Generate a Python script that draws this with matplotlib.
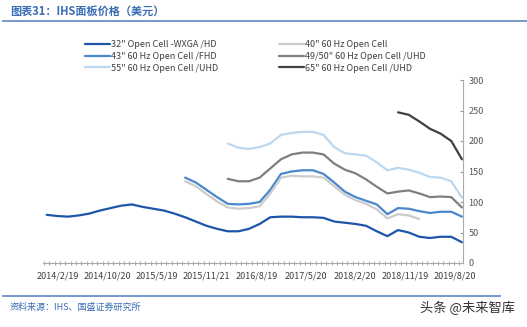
import matplotlib
matplotlib.use("Agg")
import matplotlib.pyplot as plt
import numpy as np

plt.rcParams['font.family'] = ['Noto Sans CJK SC', 'DejaVu Sans']

# category index (about 40 samples across the period)
n_points = 40
tick_labels = ['2014/2/19', '2014/10/20', '2015/5/19', '2015/11/21', '2016/8/19',
               '2017/5/20', '2018/2/20', '2018/11/19', '2019/8/20']

# series: (first index, values)
s32 = (0, [79, 77, 76, 78, 81, 86, 90, 94, 96, 92, 89, 86, 81, 75, 68, 61, 56, 52, 52, 56,
           64, 75, 76, 76, 75, 75, 74, 68, 66, 64, 61, 52, 44, 54, 50, 43, 41, 43, 43, 34])
s43 = (13, [140, 132, 120, 108, 97, 96, 97, 100, 120, 146, 150, 152, 152, 146, 132, 117,
            108, 102, 96, 80, 90, 89, 85, 82, 84, 84, 76])
s55 = (17, [196, 189, 187, 190, 196, 210, 213, 215, 215, 210, 190, 180, 178, 176, 165, 152,
            156, 153, 148, 141, 140, 134, 107])
s40 = (13, [134, 126, 113, 101, 91, 89, 90, 93, 114, 140, 143, 142, 142, 140, 126, 112,
            103, 97, 88, 73, 80, 78, 72])
s50 = (17, [138, 134, 134, 140, 155, 170, 178, 181, 181, 178, 163, 153, 147, 137, 125, 114,
            117, 119, 114, 108, 109, 108, 91])
s65 = (33, [247, 243, 232, 220, 212, 200, 170])

series = [
    ('32" Open Cell -WXGA /HD', s32, '#1f55a8'),
    ('43" 60 Hz Open Cell /FHD', s43, '#4a87cc'),
    ('55" 60 Hz Open Cell /UHD', s55, '#bdd7ee'),
    ('40" 60 Hz Open Cell', s40, '#cccccc'),
    ('49/50" 60 Hz Open Cell /UHD', s50, '#7f7f7f'),
    ('65" 60 Hz Open Cell /UHD', s65, '#404040'),
]

fig = plt.figure(figsize=(5.27, 3.27), dpi=100)
ax = fig.add_axes([43 / 527, 1 - 263 / 327, 420 / 527, 183 / 327])

for name, (start, vals), color in series:
    x = np.arange(start, start + len(vals))
    ax.plot(x, vals, color=color, lw=1.6, label=name, solid_capstyle='round')

ax.set_xlim(-0.35, 39.1)
ax.set_ylim(0, 300)
ax.set_yticks(range(0, 301, 50))
ax.yaxis.tick_right()
ax.tick_params(axis='y', direction='in', length=2.5, color='#999999',
               labelsize=6.5, labelcolor='#555555', pad=4)
ax.set_xticks(np.linspace(1.06, 38.3, len(tick_labels)))
ax.set_xticklabels(tick_labels)
ax.set_xticks(np.arange(-0.25, 39.1, 0.5), minor=True)
ax.tick_params(axis='x', which='major', length=0, labelsize=6.5,
               labelcolor='#404040', pad=6)
ax.tick_params(axis='x', which='minor', direction='inout', length=2.5,
               width=0.6, color='#999999')
for side in ['left', 'top']:
    ax.spines[side].set_visible(False)
ax.spines['bottom'].set_color('#aaaaaa')
ax.spines['right'].set_color('#aaaaaa')

handles, labels = ax.get_legend_handles_labels()
fig.legend(handles, labels, ncol=2, loc='upper left',
           bbox_to_anchor=(77 / 527, 1 - 32 / 327), frameon=False,
           fontsize=6.5, handlelength=2.7, handletextpad=0.15,
           columnspacing=6.8, labelspacing=0.3, labelcolor='#404040')

# header and footer
fig.text(10 / 527, 1 - 11 / 327, '图表31：IHS面板价格（美元）', fontsize=8,
         color='#3a6db5', style='italic', weight='bold', va='center')
fig.add_artist(plt.Line2D([3 / 527, 1], [1 - 21 / 327] * 2, color='#6a8fc8', lw=1.3))
fig.add_artist(plt.Line2D([3 / 527, 500 / 527], [1 - 296 / 327] * 2,
                          color='#6a8fc8', lw=1.3))
fig.text(10 / 527, 1 - 307 / 327, '资料来源：IHS、国盛证券研究所', fontsize=6.5,
         color='#3a6db5', style='italic', va='center')
fig.text(515 / 527, 1 - 308 / 327, '头条 @未来智库', fontsize=9.5,
         color='#333333', ha='right', va='center')

fig.savefig('out.png', dpi=100)
